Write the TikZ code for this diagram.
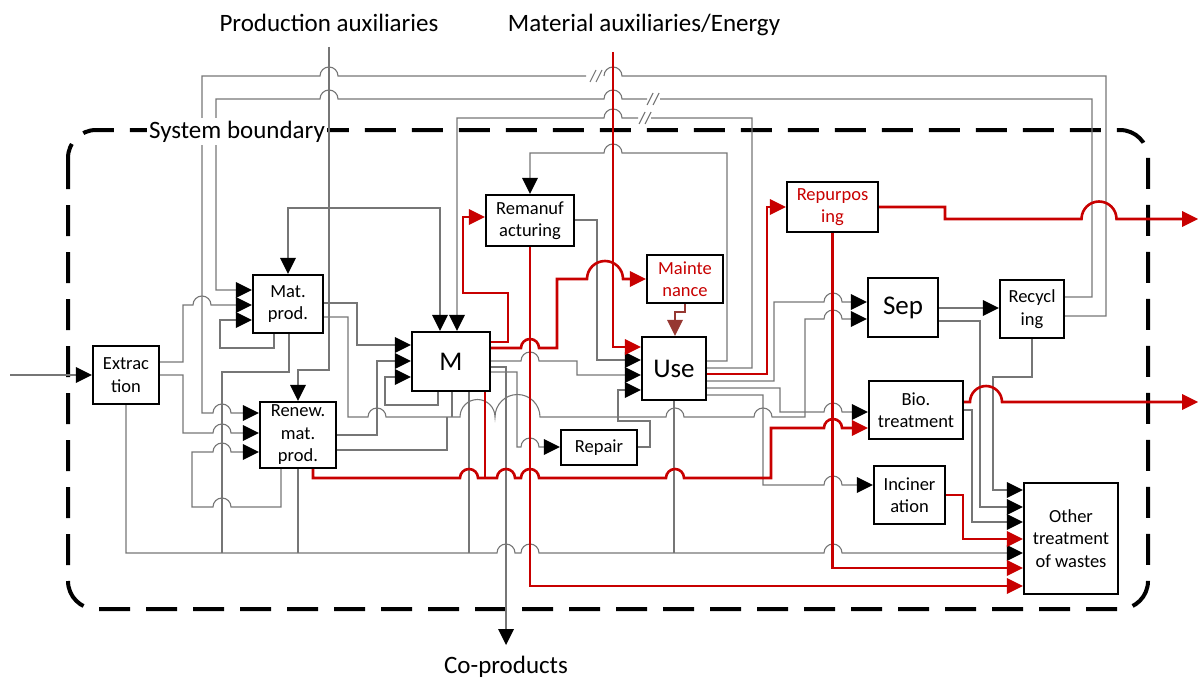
\documentclass[tikz,border=0pt]{standalone}
\usepackage{fontspec}
\setmainfont{Carlito}
\usepackage{tikz}
\usetikzlibrary{positioning,arrows.meta}
\definecolor{flowgrey}{RGB}{118,118,118}
\definecolor{flowred}{RGB}{200,0,0}
\definecolor{flowbrown}{RGB}{150,56,50}
\begin{document}
\begin{tikzpicture}[x=1pt,y=-1pt,
  proc/.style={draw=black,line width=2.4pt,fill=white,inner sep=0pt,align=center,font={\fontsize{18.5}{22.5}\selectfont}},
  big/.style={font={\fontsize{27}{30}\selectfont}},
  lab/.style={font={\fontsize{25}{28}\selectfont},anchor=base},
  flow/.style={draw=flowgrey,line width=1.1pt},
  redflow/.style={draw=flowred,line width=2.6pt},
  blacktip/.style={-{Triangle[length=16pt,width=16pt,color=black,line width=0pt]}},
  redtip/.style={-{Triangle[length=16pt,width=16pt,line width=0pt]}}]
\useasboundingbox (0,0) rectangle (1198,677);
% hops where a line crosses another one
\def\hopr{arc[start angle=180,end angle=0,radius=9pt]}
\def\hopl{arc[start angle=0,end angle=180,radius=9pt]}
% system boundary
\draw[line width=4pt,dash pattern=on 31pt off 16pt,rounded corners=28pt] (68,130) rectangle (1148,609);
% processes
\node[proc,minimum width=66pt,minimum height=58pt] (ext) at (126,375) {Extrac\\tion};
\node[proc,minimum width=70pt,minimum height=58pt] (mat) at (288,304) {Mat.\\prod.};
\node[proc,minimum width=76pt,minimum height=66pt] (ren) at (298,435) {Renew.\\mat.\\prod.};
\node[proc,big,minimum width=78pt,minimum height=59pt] (mm) at (451,361.5) {M};
\node[proc,minimum width=88pt,minimum height=51pt] (rem) at (530,220.5) {Remanuf\\acturing};
\node[proc,text=flowred,minimum width=76pt,minimum height=48pt] (mnt) at (685,279) {Mainte\\nance};
\node[proc,big,minimum width=64pt,minimum height=63pt] (use) at (674,368.5) {Use};
\node[proc,minimum width=76pt,minimum height=35pt] (rep) at (599,447.5) {Repair};
\node[proc,text=flowred,minimum width=91pt,minimum height=50pt] (rpp) at (832.5,207) {Repurpos\\ing};
\node[proc,big,minimum width=70pt,minimum height=59pt] (sep) at (903,307.5) {Sep};
\node[proc,minimum width=64pt,minimum height=58pt] (rcy) at (1032,309) {Recycl\\ing};
\node[proc,minimum width=94pt,minimum height=58pt] (bio) at (916,410) {Bio.\\treatment};
\node[proc,minimum width=71pt,minimum height=58pt] (inc) at (909.5,495) {Inciner\\ation};
\node[proc,minimum width=94pt,minimum height=111pt] (oth) at (1071,538.5) {Other\\treatment\\of wastes};
% free ends
\coordinate (src) at (10,375);
\coordinate (paux) at (329,47);
\coordinate (maux) at (613,52);
\coordinate (cop) at (506,645);
\coordinate (out1) at (1198,219);
\coordinate (out2) at (1198,402);
% grey flows
\draw[flow,blacktip] (src) -- (ext.west);
\draw[flow,blacktip] (paux) -- (329,370) -| (ren.north);
\draw[flow,blacktip] (329,208) -| (mat.north);
\draw[flow,blacktip] (329,208) -| (mm.north -| 440,0);
\draw[flow,blacktip] (rcy.east |- 0,316) -- (1106,316) -- (1106,76) -- (622,76) \hopl
  (586,76) -- (338,76) \hopl -- (202,76) -- (202,413) -- (213,413) \hopr -- (ren.west |- 0,413);
\draw[flow] (590,82) -- (596,70) (596,82) -- (602,70);
\draw[flow,blacktip] (rcy.east |- 0,297) -- (1092,297) -- (1092,99) -- (660,99)
  (647,99) -- (622,99) \hopl -- (338,99) \hopl -- (216,99) -- (216,290) -- (mat.west |- 0,290);
\draw[flow] (647,105) -- (653,93) (653,105) -- (659,93);
\draw[flow,blacktip] (use.east |- 0,368) -- (752,368) -- (752,118) -- (651,118)
  (638,118) -- (622,118) \hopl -- (457,118) -- (mm.north -| 457,0);
\draw[flow] (639,124) -- (645,112) (645,124) -- (651,112);
\draw[flow,blacktip] (use.east |- 0,361) -- (727,361) -- (727,153) -- (622,153) \hopl -- (530,153) -- (rem.north);
\draw[flow,blacktip] (rem.east |- 0,220) -- (597,220) -- (597,360) -- (use.west |- 0,360);
\draw[flow,blacktip] (mm.east |- 0,361) -- (521,361) \hopr -- (577,361) -- (577,375) -- (use.west |- 0,375);
\draw[flow,blacktip] (mm.east |- 0,367) -- (506,367) -- (cop);
\draw[flow,blacktip] (mm.east |- 0,372) -- (517,372) -- (517,447) -- (521,447) \hopr -- (rep.west |- 0,447);
\draw[flow,blacktip] (rep.east |- 0,447) -- (650,447) -- (650,421) -- (618,421) -- (618,390) -- (use.west |- 0,390);
\draw[flow,blacktip] (mat.east |- 0,303) -- (357,303) -- (357,345) -- (mm.west |- 0,345);
\draw[flow,blacktip] (ren.east |- 0,435) -- (377,435) -- (377,361) -- (mm.west |- 0,361);
\draw[flow,blacktip] (mm.south -| 438,0) -- (438,405) -- (385,405) -- (385,377) -- (mm.west |- 0,377);
\draw[flow,blacktip] (mat.east |- 0,317) -- (348,317) -- (348,417) -- (368,417) \hopr -- (460,417)
  arc[start angle=180,end angle=0,radius=17.5pt] arc[start angle=180,end angle=0,radius=22.5pt]
  -- (666,417) \hopr -- (754,417) \hopr -- (805,417) -- (805,319) -- (824,319) \hopr -- (sep.west |- 0,319);
\draw[flow] (ren.east |- 0,450) -- (447,450) -- (447,417);
\draw[flow] (mm.south -| 452,0) -- (452,417);
\draw[flow,blacktip] (use.east |- 0,381) -- (774,381) -- (774,302) -- (824,302) \hopr -- (sep.west |- 0,302);
\draw[flow,blacktip] (use.east |- 0,388) -- (780,388) -- (780,412) -- (824,412) \hopr -- (bio.west |- 0,412);
\draw[flow,blacktip] (use.east |- 0,395) -- (763,395) -- (763,485) -- (824,485) \hopr -- (inc.west |- 0,485);
% waste collector along the bottom
\draw[flow,blacktip] (ext.south) -- (126,553) -- (497,553) \hopr -- (521,553) \hopr -- (824,553) \hopr -- (oth.west |- 0,553);
\draw[flow] (mat.south -| 289,0) -- (289,372) -- (222,372) -- (222,553);
\draw[flow] (ren.south) -- (ren.south |- 0,553);
\draw[flow] (mm.south -| 469,0) -- (469,553);
\draw[flow] (use.south) -- (use.south |- 0,553);
\draw[flow,blacktip] (mat.south -| 274,0) -- (274,348) -- (220,348) -- (220,320) -- (mat.west |- 0,320);
\draw[flow,blacktip] (ext.east |- 0,362) -- (183,362) -- (183,305) -- (193,305) \hopr -- (mat.west |- 0,305);
\draw[flow,blacktip] (ext.east |- 0,375) -- (183,375) -- (183,433) -- (213,433) \hopr -- (ren.west |- 0,433);
\draw[flow,blacktip] (ren.south -| 281,0) -- (281,507) -- (231,507) \hopl -- (192,507) -- (192,452) -- (213,452) \hopr -- (ren.west |- 0,452);
\draw[flow,blacktip] (rcy.south) -- (rcy.south |- 0,377) -- (993,377) -- (993,490) -- (oth.west |- 0,490);
\draw[flow,blacktip] (sep.east |- 0,308) -- (rcy.west |- 0,308);
\draw[flow,blacktip] (sep.east |- 0,321) -- (980,321) -- (980,507) -- (oth.west |- 0,507);
\draw[flow,blacktip] (bio.east |- 0,410) -- (972,410) -- (972,522) -- (oth.west |- 0,522);
% red flows
\draw[redflow,redtip] (maux) -- (613,347) -- (use.west |- 0,347);
\draw[redflow,redtip] (mm.east |- 0,342) -- (508,342) -- (508,293) -- (463,293) -- (463,217) -- (rem.west |- 0,217);
\draw[redflow,redtip] (mm.east |- 0,348) -- (521,348) \hopr -- (557,348) -- (557,279) -- (587,279)
  arc[start angle=180,end angle=0,radius=18pt] -- (mnt.west |- 0,279);
\draw[draw=flowbrown,line width=2.6pt,redtip] (mnt.south) -- (685,312) -- (675,312) -- (use.north -| 675,0);
\draw[redflow,redtip] (rem.south) -- (rem.south |- 0,586) -- (oth.west |- 0,586);
\draw[redflow,redtip] (rpp.south) -- (rpp.south |- 0,568) -- (oth.west |- 0,568);
\draw[redflow,redtip] (rpp.east |- 0,207) -- (945,207) -- (945,219) -- (1081.5,219)
  arc[start angle=180,end angle=0,radius=17.5pt] -- (out1);
\draw[redflow,redtip] (use.east |- 0,374) -- (767,374) -- (767,207) -- (rpp.west |- 0,207);
\draw[redflow,redtip] (bio.east |- 0,402) -- (970,402) arc[start angle=180,end angle=0,radius=16pt] -- (out2);
\draw[redflow,redtip] (ren.south -| 313,0) -- (313,478) -- (460,478) \hopr -- (497,478) \hopr -- (521,478) \hopr
  -- (666,478) \hopr -- (771,478) -- (771,428) -- (824,428) \hopr -- (bio.west |- 0,428);
\draw[redflow] (mm.south -| 485,0) -- (485,478);
\draw[redflow,redtip] (inc.east |- 0,495) -- (963,495) -- (963,539) -- (oth.west |- 0,539);
% labels
\node[lab] (tpa) at (329,32) {Production auxiliaries};
\node[lab] (tma) at (644,32) {Material auxiliaries/Energy};
\node[lab] (tcp) at (506,673) {Co-products};
\node[lab,fill=white,inner xsep=2pt,inner ysep=3pt] (tsb) at (237,138) {System boundary};
\end{tikzpicture}
\end{document}
